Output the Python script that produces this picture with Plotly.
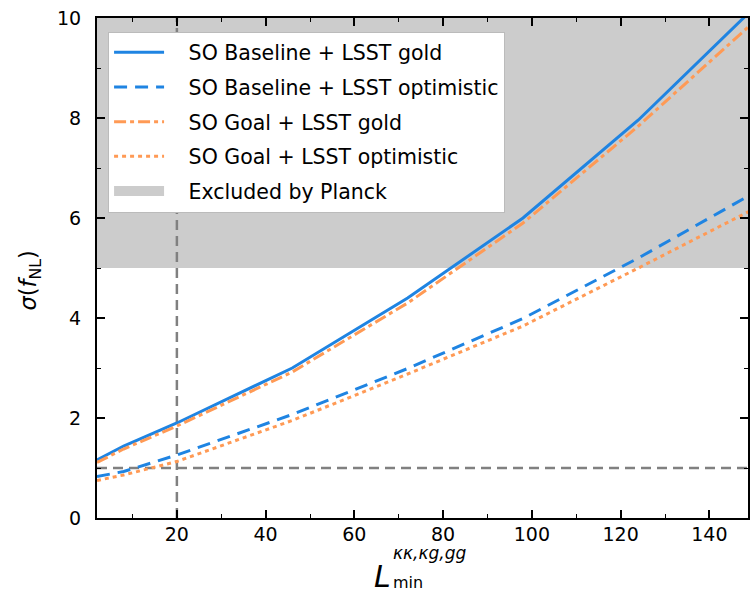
import plotly.graph_objects as go

# ---- data ----
L_min = [2, 8, 20, 46, 72, 98, 124, 150]
so_base_gold = [1.16, 1.44, 1.90, 3.00, 4.40, 6.00, 7.96, 10.20]
so_base_opt = [0.83, 0.93, 1.26, 2.07, 2.99, 3.99, 5.20, 6.50]
so_goal_gold = [1.11, 1.38, 1.84, 2.92, 4.30, 5.90, 7.84, 9.92]
so_goal_opt = [0.75, 0.86, 1.13, 1.95, 2.88, 3.84, 5.00, 6.18]

planck_bound = [5, 10]          # excluded band in sigma(f_NL)
ref_sigma = 1                   # horizontal reference
ref_L = 20                      # vertical reference
x_range = [2, 148.7]
y_range = [0, 10]
x_ticks = [20, 40, 60, 80, 100, 120, 140]
y_ticks = [0, 2, 4, 6, 8, 10]

BLUE = "#1f84e2"
ORANGE = "#ff9a55"
GREY_FILL = "#cccccc"
REF = "#808080"
FONT = "DejaVu Sans"
PAD = "\u00a0\u00a0\u00a0"

fig = go.Figure()

# Excluded band (drawn first, underneath)
fig.add_trace(go.Scatter(
    x=[L_min[0], L_min[-1], L_min[-1], L_min[0], L_min[0]],
    y=[planck_bound[0], planck_bound[0], planck_bound[1], planck_bound[1], planck_bound[0]],
    fill="toself", fillcolor=GREY_FILL, mode="lines", line=dict(width=0, color=GREY_FILL),
    showlegend=False, hoverinfo="skip", legendgroup="z"))

# Reference lines
fig.add_trace(go.Scatter(x=[x_range[0], L_min[-1]], y=[ref_sigma, ref_sigma], mode="lines",
                         line=dict(color=REF, width=2.5, dash="10px,6px"), showlegend=False, legendgroup="z"))
fig.add_trace(go.Scatter(x=[ref_L, ref_L], y=[y_range[0], y_range[1]], mode="lines",
                         line=dict(color=REF, width=2.5, dash="10px,6px"), showlegend=False, legendgroup="z"))

fig.add_trace(go.Scatter(x=L_min, y=so_base_gold, mode="lines", name=PAD + "SO Baseline + LSST gold",
                         line=dict(color=BLUE, width=3), legendgroup="a"))
fig.add_trace(go.Scatter(x=L_min, y=so_base_opt, mode="lines", name=PAD + "SO Baseline + LSST optimistic",
                         line=dict(color=BLUE, width=3, dash="13px,8px"), legendgroup="b"))
fig.add_trace(go.Scatter(x=L_min, y=so_goal_gold, mode="lines", name=PAD + "SO Goal + LSST gold",
                         line=dict(color=ORANGE, width=3, dash="12px,4px,4px,4px"), legendgroup="c"))
fig.add_trace(go.Scatter(x=L_min, y=so_goal_opt, mode="lines", name=PAD + "SO Goal + LSST optimistic",
                         line=dict(color=ORANGE, width=3, dash="4px,4px"), legendgroup="d"))

# legend entry for the excluded band
fig.add_trace(go.Scatter(x=[None], y=[None], mode="lines", name=PAD + "Excluded by Planck",
                         line=dict(color=GREY_FILL, width=15), legendgroup="e"))

axis_common = dict(showline=True, linecolor="black", linewidth=2, mirror="allticks",
                   ticks="inside", ticklen=8, tickwidth=1.5, tickcolor="black",
                   showgrid=False, zeroline=False,
                   tickfont=dict(family=FONT, size=19, color="black"))

fig.update_xaxes(range=x_range, tickvals=x_ticks, ticklabelstandoff=-2,
                 minor=dict(ticks="inside", ticklen=4, tickwidth=1, tickcolor="black", dtick=10, tick0=0),
                 **axis_common)
fig.update_yaxes(range=y_range, tickvals=y_ticks, ticklabelstandoff=10,
                 minor=dict(ticks="inside", ticklen=4, tickwidth=1, tickcolor="black", dtick=1, tick0=0),
                 **axis_common)

annotations = [
    dict(text="<i>σ</i>(<i>f</i><sub>NL</sub>)", x=-0.103, y=0.475, xref="paper", yref="paper",
         xanchor="center", yanchor="middle",
         textangle=-90, showarrow=False, font=dict(family=FONT, size=22.5, color="black")),
    dict(text="<i>L</i>", x=0.438, y=-0.116, xref="paper", yref="paper", showarrow=False,
         xanchor="center", yanchor="middle",
         font=dict(family=FONT, size=30, color="black")),
    dict(text="<i>κκ,κg,gg</i>", x=0.452, y=-0.07, xref="paper", yref="paper", xanchor="left",
         yanchor="middle", showarrow=False, font=dict(family=FONT, size=17, color="black")),
    dict(text="min", x=0.452, y=-0.128, xref="paper", yref="paper", xanchor="left",
         yanchor="middle", showarrow=False, font=dict(family=FONT, size=16, color="black")),
]

fig.update_layout(
    width=750, height=593,
    margin=dict(l=97, r=0, t=18, b=75),
    paper_bgcolor="white", plot_bgcolor="white",
    annotations=annotations,
    legend=dict(x=0.017, y=0.973, xanchor="left", yanchor="top",
                bgcolor="white", bordercolor="#bbbbbb", borderwidth=1,
                font=dict(family=FONT, size=20.5, color="black"),
                itemwidth=50, tracegroupgap=5, traceorder="grouped"),
    font=dict(family=FONT),
)

fig.write_html("out.html")
